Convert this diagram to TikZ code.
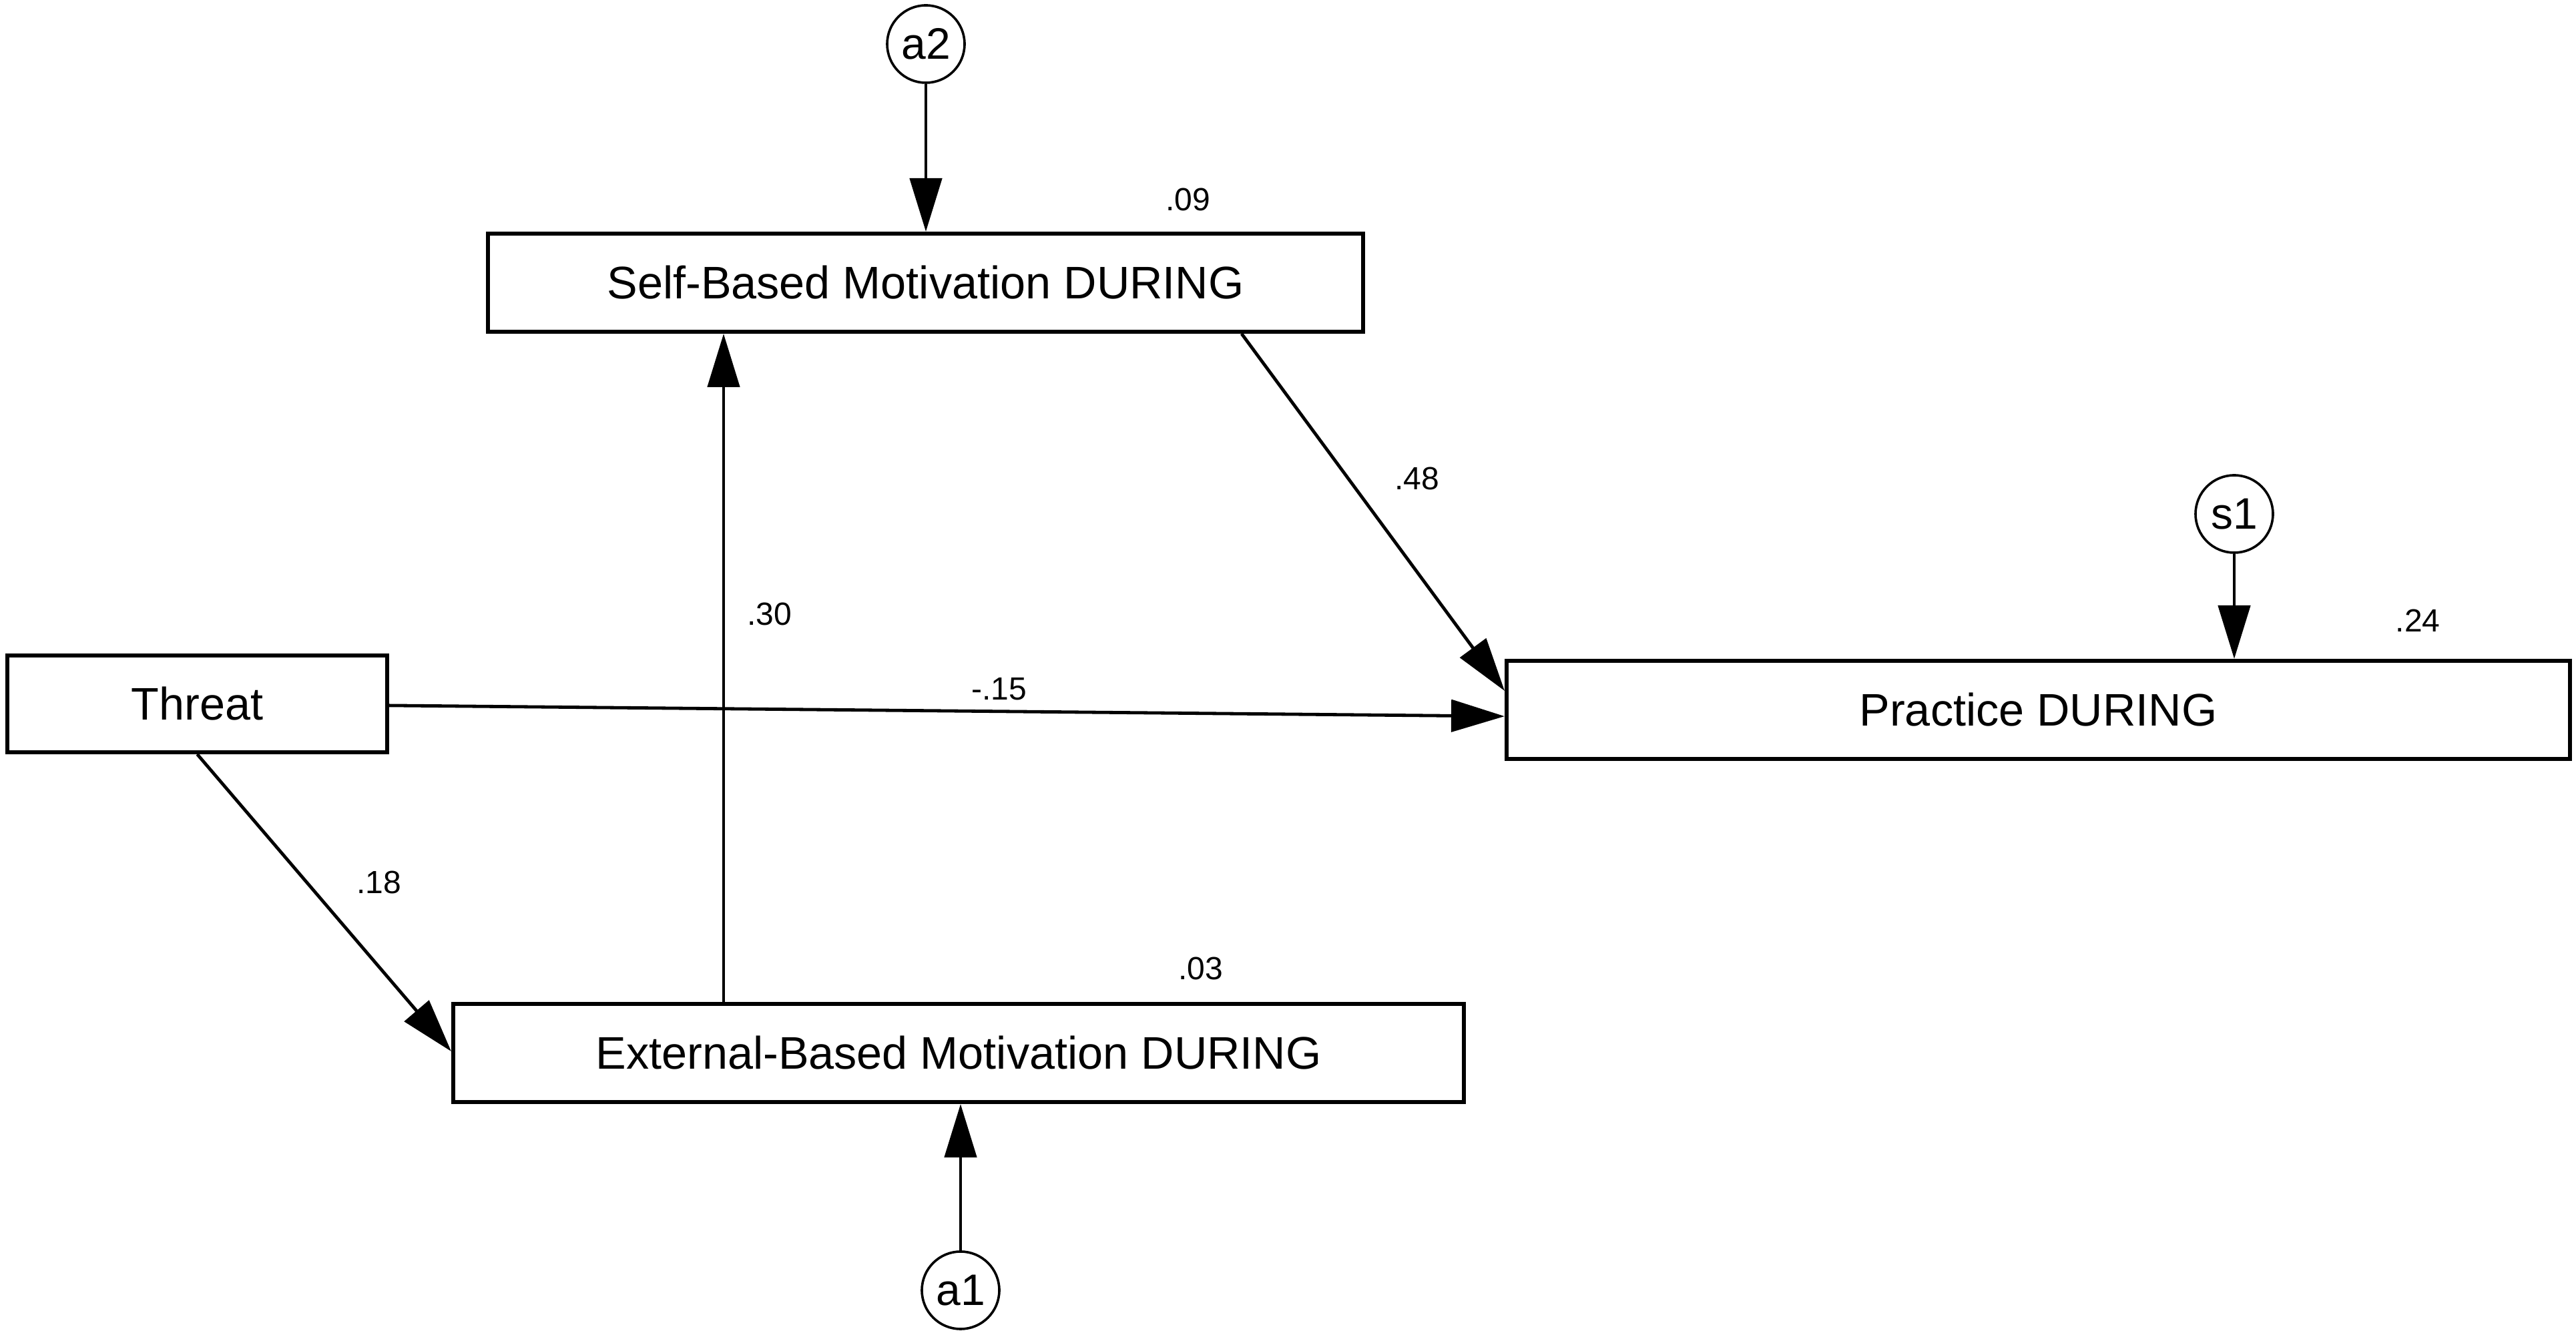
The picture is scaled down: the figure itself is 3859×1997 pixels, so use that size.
\documentclass[tikz,border=0pt]{standalone}
\usepackage{fontspec}
\setmainfont{Liberation Sans}
\usetikzlibrary{arrows.meta}
\begin{document}
\begin{tikzpicture}[x=0.25pt,y=-0.25pt,
  varbox/.style={draw, line width=1.5pt, rectangle, inner sep=0pt, minimum height=36.75pt, font=\fontsize{17.1}{20}\selectfont},
  errc/.style={draw, circle, line width=0.9pt, inner sep=0pt, minimum size=29pt, font=\fontsize{16.5}{20}\selectfont},
  lbl/.style={inner sep=0pt, font=\fontsize{12}{14}\selectfont},
  path/.style={line width=1.2pt, -{Triangle[length=20pt,width=12pt]}}]
\useasboundingbox (0,0) rectangle (3859,1997);
% nodes
\node[varbox, minimum width=327.75pt] (self) at (1386.5,423.5) {Self-Based Motivation DURING};
\node[varbox, minimum width=398.25pt] (prac) at (3053.5,1063.5) {Practice DURING};
\node[varbox, minimum width=142.25pt, minimum height=36.25pt] (thr) at (295.5,1054.5) {Threat};
\node[varbox, minimum width=378.5pt] (ext) at (1436,1577.5) {External-Based Motivation DURING};
\node[errc] (a2) at (1387,66) {a2};
\node[errc] (s1) at (3347,770) {s1};
\node[errc] (a1) at (1439,1933) {a1};
% connectors
\draw[path] (a2.south) -- (a2.south |- self.north);
\draw[path] (s1.south) -- (s1.south |- prac.north);
\draw[path] (a1.north) -- (a1.north |- ext.south);
\draw[path] ([xshift=283pt]self.south west) -- ([yshift=-12pt]prac.north west);
\draw[path] ([yshift=-0.6pt]thr.east) -- ([yshift=-2.4pt]prac.west);
\draw[path] (thr.south) -- ([yshift=0.6pt]ext.west);
\coordinate (c30) at ([xshift=102pt]ext.north west);
\draw[path] (c30) -- (c30 |- self.south);
% labels
\node[lbl] (l09) at (1780,299) {.09};
\node[lbl] (l48) at (2123,717) {.48};
\node[lbl] (l24) at (3622,930) {.24};
\node[lbl] (l15) at (1497,1032) {-.15};
\node[lbl] (l30) at (1153,920) {.30};
\node[lbl] (l18) at (568,1322) {.18};
\node[lbl] (l03) at (1799,1451) {.03};
\end{tikzpicture}
\end{document}
